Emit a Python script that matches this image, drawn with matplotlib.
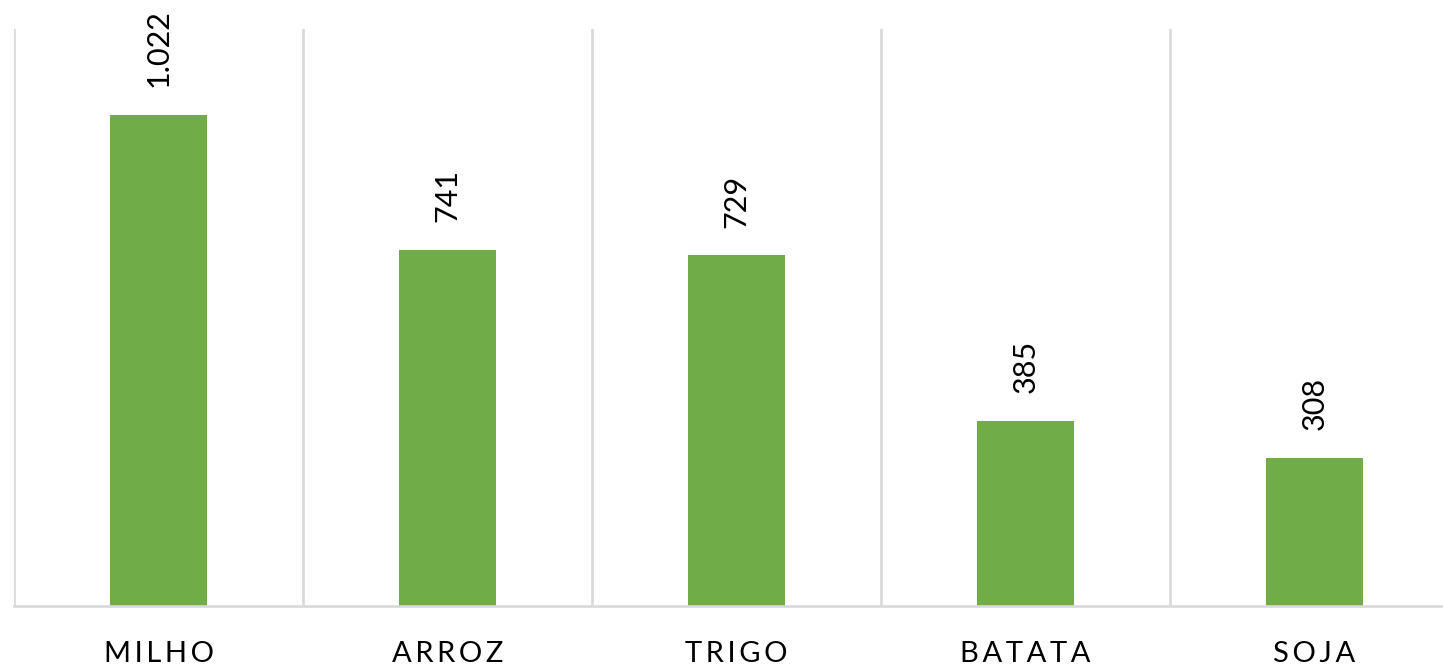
import matplotlib
matplotlib.use("Agg")
import matplotlib.pyplot as plt
import numpy as np

categories = ["MILHO", "ARROZ", "TRIGO", "BATATA", "SOJA"]
values = [1022, 741, 729, 385, 308]

plt.rcParams['font.family'] = ['Lato', 'DejaVu Sans']

W, H = 1443, 665
fig = plt.figure(figsize=(W / 100, H / 100), dpi=100)
ax = fig.add_axes([14 / W, 59 / H, 1445 / W, 577 / H])

x = np.arange(len(categories))
bars = ax.bar(x, values, width=0.333, color="#70AD47", zorder=3)

ax.set_xlim(-0.5, len(categories) - 0.5)
ax.set_ylim(0, 1200)

grid_color = "#D9D9D9"
for b in np.arange(-0.5, len(categories) - 0.4, 1.0):
    ax.axvline(b, color=grid_color, lw=1.9, zorder=1)

for s in ["top", "right", "left"]:
    ax.spines[s].set_visible(False)
ax.spines["bottom"].set_color(grid_color)
ax.spines["bottom"].set_linewidth(1.9)
ax.spines["bottom"].set_zorder(4)

ax.set_yticks([])
ax.set_xticks(x)
ax.set_xticklabels(["\u2009".join(c) for c in categories], fontsize=21, color="#000000")
ax.tick_params(axis="x", length=0, pad=25)


def fmt(v):
    return f"{v:,}".replace(",", ".")


for xi, v in zip(x, values):
    ax.annotate(fmt(v), (xi, v), xytext=(0, 20), textcoords="offset points",
                rotation=90, ha="center", va="bottom", fontsize=22, color="#000000")

fig.savefig("out.png", dpi=100)
